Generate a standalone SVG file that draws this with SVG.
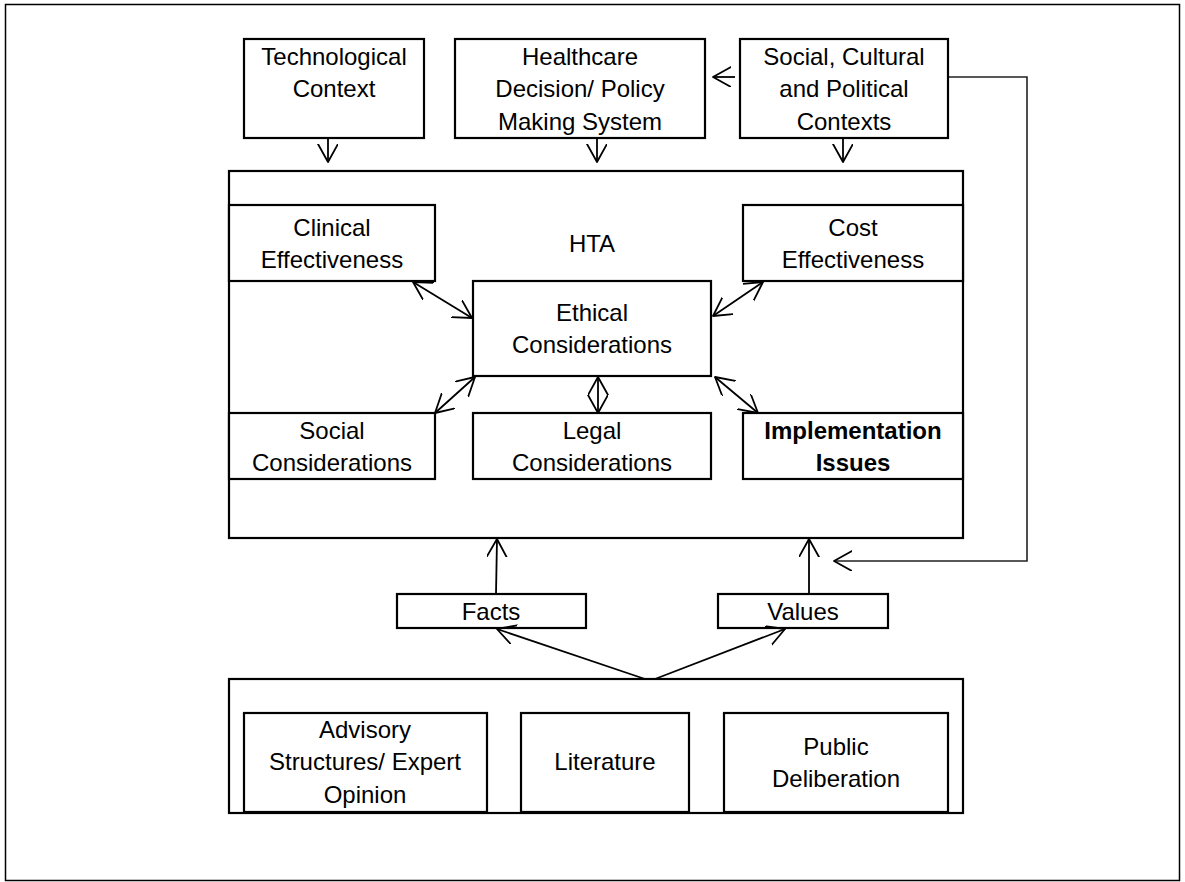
<svg xmlns="http://www.w3.org/2000/svg" width="1185" height="882" viewBox="0 0 1185 882">
<style>
.box{fill:#fff;stroke:#000;stroke-width:2.2}
.frame{fill:none;stroke:#000;stroke-width:1.5}
.t{font-family:"Liberation Sans",Arial,sans-serif;font-size:24px;fill:#000;text-anchor:middle}
.b{font-weight:bold}
.c{fill:none;stroke:#000;stroke-width:1.8}
.fb{fill:none;stroke:#222;stroke-width:1.6}
</style>
<defs>
<marker id="arr" viewBox="0 0 20 22" refX="18" refY="10" markerWidth="20" markerHeight="22" markerUnits="userSpaceOnUse" orient="auto-start-reverse">
<path d="M0,0 L18,10 L0,20" fill="none" stroke="#000" stroke-width="1.8" stroke-linejoin="round" stroke-linecap="round"/>
</marker>
</defs>
<rect class="frame" x="5.5" y="4.5" width="1174" height="876"/>

<g id="hta">
<rect class="box" x="229" y="171" width="734" height="367"/>
<text class="t" x="592" y="252">HTA</text>
</g>
<g id="technological">
<rect class="box" x="244" y="39" width="180" height="99"/>
<text class="t" x="334" y="65">Technological</text>
<text class="t" x="334" y="97">Context</text>
</g>
<g id="healthcare">
<rect class="box" x="455" y="39" width="250" height="99"/>
<text class="t" x="580" y="65">Healthcare</text>
<text class="t" x="580" y="97">Decision/ Policy</text>
<text class="t" x="580" y="130">Making System</text>
</g>
<g id="social-contexts">
<rect class="box" x="740" y="39" width="208" height="99"/>
<text class="t" x="844" y="65">Social, Cultural</text>
<text class="t" x="844" y="97">and Political</text>
<text class="t" x="844" y="130">Contexts</text>
</g>
<g id="clinical">
<rect class="box" x="229" y="205" width="206" height="76"/>
<text class="t" x="332" y="236">Clinical</text>
<text class="t" x="332" y="268">Effectiveness</text>
</g>
<g id="cost">
<rect class="box" x="743" y="205" width="220" height="76"/>
<text class="t" x="853" y="236">Cost</text>
<text class="t" x="853" y="268">Effectiveness</text>
</g>
<g id="ethical">
<rect class="box" x="473" y="281" width="238" height="95"/>
<text class="t" x="592" y="321">Ethical</text>
<text class="t" x="592" y="353">Considerations</text>
</g>
<g id="social-considerations">
<rect class="box" x="229" y="413" width="206" height="66"/>
<text class="t" x="332" y="439">Social</text>
<text class="t" x="332" y="471">Considerations</text>
</g>
<g id="legal">
<rect class="box" x="473" y="413" width="238" height="66"/>
<text class="t" x="592" y="439">Legal</text>
<text class="t" x="592" y="471">Considerations</text>
</g>
<g id="implementation">
<rect class="box" x="743" y="413" width="220" height="66"/>
<text class="t b" x="853" y="439">Implementation</text>
<text class="t b" x="853" y="471">Issues</text>
</g>
<g id="facts">
<rect class="box" x="397" y="594" width="189" height="34"/>
<text class="t" x="491" y="620">Facts</text>
</g>
<g id="values">
<rect class="box" x="718" y="594" width="170" height="34"/>
<text class="t" x="803" y="620">Values</text>
</g>
<g id="sources">
<rect class="box" x="229" y="679" width="734" height="134"/>
</g>
<g id="advisory">
<rect class="box" x="244" y="713" width="243" height="99"/>
<text class="t" x="365" y="738">Advisory</text>
<text class="t" x="365" y="770">Structures/ Expert</text>
<text class="t" x="365" y="803">Opinion</text>
</g>
<g id="literature">
<rect class="box" x="521" y="713" width="168" height="99"/>
<text class="t" x="605" y="770">Literature</text>
</g>
<g id="public">
<rect class="box" x="724" y="713" width="224" height="99"/>
<text class="t" x="836" y="755">Public</text>
<text class="t" x="836" y="787">Deliberation</text>
</g>

<g id="connectors">
<line class="c" x1="328" y1="139" x2="328" y2="162" marker-end="url(#arr)"/>
<line class="c" x1="597" y1="139" x2="597" y2="162" marker-end="url(#arr)"/>
<line class="c" x1="843" y1="139" x2="843" y2="162" marker-end="url(#arr)"/>
<line class="c" x1="735" y1="77" x2="713" y2="77" marker-end="url(#arr)"/>
<polyline class="fb" points="949,77 1027,77 1027,561 834,561" marker-end="url(#arr)"/>
<line class="c" x1="413" y1="282" x2="472" y2="318" marker-start="url(#arr)" marker-end="url(#arr)"/>
<line class="c" x1="763" y1="282" x2="713" y2="316" marker-start="url(#arr)" marker-end="url(#arr)"/>
<line class="c" x1="435" y1="413" x2="475" y2="377" marker-start="url(#arr)" marker-end="url(#arr)"/>
<line class="c" x1="715" y1="377" x2="758" y2="413" marker-start="url(#arr)" marker-end="url(#arr)"/>
<line class="c" x1="598" y1="377" x2="598" y2="413" marker-start="url(#arr)" marker-end="url(#arr)"/>
<line class="c" x1="496" y1="594" x2="497" y2="539" marker-end="url(#arr)"/>
<line class="c" x1="809" y1="594" x2="809" y2="539" marker-end="url(#arr)"/>
<line class="c" x1="645" y1="679" x2="497" y2="629" marker-end="url(#arr)"/>
<line class="c" x1="655" y1="679" x2="785" y2="629" marker-end="url(#arr)"/>
</g>
</svg>
